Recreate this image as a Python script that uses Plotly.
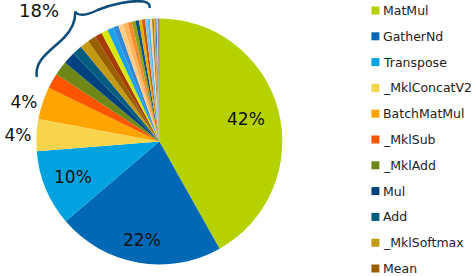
import math
import plotly.graph_objects as go

# ---- data ----
labels = ["MatMul", "GatherNd", "Transpose", "_MklConcatV2", "BatchMatMul",
          "_MklSub", "_MklAdd", "Mul", "Add", "_MklSoftmax", "Mean",
          "Sub", "Tile", "Reshape", "Cast", "Sum", "StridedSlice", "Pack",
          "ExpandDims", "Shape", "Slice", "Fill", "RealDiv", "Rsqrt",
          "SquaredDifference", "Pow", "Tanh", "Range", "Identity", "Const", "Squeeze"]
values = [42.0, 22.0, 10.0, 4.2, 4.3,
          2.0, 1.9, 1.6, 1.3, 1.2, 1.1,
          0.95, 0.85, 0.8, 0.72, 0.66, 0.6, 0.55, 0.5, 0.45, 0.42,
          0.38, 0.34, 0.3, 0.27, 0.24, 0.2, 0.17, 0.14, 0.12, 0.1]
colors = ["#b5d100", "#0068b5", "#00a3e0", "#f8d44c", "#ffa400",
          "#ff5400", "#6f8716", "#00427e", "#005d80", "#c49a12", "#9a5f00",
          "#a53e00", "#d8e800", "#1aa3ea", "#2f88d8", "#ffcd85", "#ffb35c",
          "#ff8a2e", "#8fa21a", "#0b4f86", "#e6b000", "#c95500", "#7fc5f0",
          "#55b2e8", "#fbd7a0", "#b07a2a", "#f0a030", "#3a78b8", "#d0d0a0",
          "#8a8a8a", "#6b4a20"]
legend_count = 11
inside_label_idx = {0: 0.73, 1: 0.81, 2: 0.76}   # slice index -> label radius (fraction of R)
outside_label_idx = [3, 4]
group_label = "18%"

W, H = 474, 276
cx, cy, R = 158, 141.5, 123.5
FONT = "DejaVu Sans"

positions = ["outside" if i in outside_label_idx else "none" for i in range(len(values))]

fig = go.Figure(go.Pie(
    labels=labels, values=values, sort=False, direction="clockwise", rotation=0,
    marker=dict(colors=colors, line=dict(width=0)),
    texttemplate="%{percent:.0%}", textposition=positions,
    textfont=dict(family=FONT, size=17, color="#111111"),
    showlegend=False, hoverinfo="label+percent",
    domain=dict(x=[(cx - R) / W, (cx + R) / W], y=[(H - cy - R) / H, (H - cy + R) / H]),
))

def pt(x, y):
    return f"{x / W:.5f},{1 - y / H:.5f}"

annotations = []
total = sum(values)
cum = 0.0
for i, v in enumerate(values):
    if i in inside_label_idx:
        ang = 2 * math.pi * (cum + v / 2) / total
        r = R * inside_label_idx[i]
        x = cx + r * math.sin(ang)
        y = cy - r * math.cos(ang)
        annotations.append(dict(x=x / W, y=1 - y / H, xref="paper", yref="paper",
                                text=f"{round(100 * v / total)}%", showarrow=False,
                                xanchor="center", yanchor="middle",
                                font=dict(family=FONT, size=17, color="#111111")))
    cum += v

# curly brace around the small slices
pts = [(35, 77), (32, 60), (50, 50), (62, 38), (70, 30), (74, 22), (73.5, 11.5),
       (76, 16), (84, 16), (96, 10), (110, 4), (130, 0), (142, 1.5), (147, 2.5), (149, 4.5), (148, 8)]
path = "M " + pt(*pts[0])
for k in range(1, len(pts), 3):
    path += " C " + " ".join(pt(*p) for p in pts[k:k + 3])
shapes = [dict(type="path", xref="paper", yref="paper", path=path,
               line=dict(color="#0d4d7a", width=2.5))]
annotations.append(dict(x=37 / W, y=1 - 10 / H, xref="paper", yref="paper", text=group_label,
                        showarrow=False, xanchor="center", yanchor="middle",
                        font=dict(family=FONT, size=18, color="#111111")))

# legend (manual, to match spacing)
for i in range(legend_count):
    yc = 10.5 + 25.8 * i
    shapes.append(dict(type="rect", xref="paper", yref="paper",
                       x0=371 / W, x1=379 / W, y0=1 - (yc + 4) / H, y1=1 - (yc - 4) / H,
                       fillcolor=colors[i], line=dict(width=0)))
    annotations.append(dict(x=381 / W, y=1 - yc / H, xref="paper", yref="paper",
                            text=labels[i], showarrow=False, xanchor="left", yanchor="middle",
                            font=dict(family=FONT, size=12.5, color="#222222")))

fig.update_layout(width=W, height=H, margin=dict(l=0, r=0, t=0, b=0),
                  paper_bgcolor="white", plot_bgcolor="white",
                  shapes=shapes, annotations=annotations)
fig.write_html("out.html", config={"displayModeBar": False},
               post_script="document.body.style.margin='0';")
